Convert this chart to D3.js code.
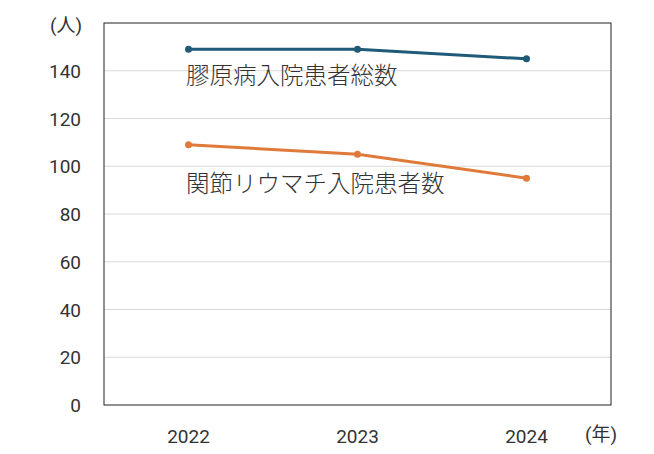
<!DOCTYPE html>
<meta charset="utf-8">
<html>
<head>
<script src="https://cdnjs.cloudflare.com/ajax/libs/d3/7.8.5/d3.min.js"></script>
<style>
body{margin:0;background:#fff;font-family:Roboto,"Noto Sans CJK JP",sans-serif;}
</style>
</head>
<body>
<svg id="chart" width="654" height="454"></svg>
<script>
var years = ["2022", "2023", "2024"];
var collagenTotal = [149, 149, 145];
var raTotal = [109, 105, 95];
var yTicks = [0, 20, 40, 60, 80, 100, 120, 140];

var svg = d3.select("#chart");
var m = {left: 104, right: 611, top: 23, bottom: 405};

var x = d3.scaleBand().domain(years).range([m.left, m.right]);
var y = d3.scaleLinear().domain([0, 160]).range([m.bottom, m.top]);

// gridlines
svg.selectAll(".grid").data(yTicks.slice(1)).enter().append("line")
	.attr("x1", m.left).attr("x2", m.right)
	.attr("y1", d => y(d)).attr("y2", d => y(d))
	.attr("stroke", "#d9d9d9").attr("stroke-width", 1);

// frame
svg.append("rect").attr("x", m.left).attr("y", m.top)
	.attr("width", m.right - m.left).attr("height", m.bottom - m.top)
	.attr("fill", "none").attr("stroke", "#222").attr("stroke-width", 1);

svg.selectAll(".yl").data(yTicks).enter().append("text")
	.attr("x", 81).attr("y", d => y(d) + 7)
	.attr("text-anchor", "end").attr("font-size", 19).attr("fill", "#333")
	.text(d => d);

svg.selectAll(".xl").data(years).enter().append("text")
	.attr("x", d => x(d) + x.bandwidth() / 2).attr("y", 443)
	.attr("text-anchor", "middle").attr("font-size", 19).attr("fill", "#333")
	.text(d => d);

svg.append("text").attr("x", 50).attr("y", 32).attr("font-size", 19).attr("fill", "#333").text("(人)");
svg.append("text").attr("x", 585).attr("y", 441).attr("font-size", 19).attr("fill", "#333").text("(年)");

var series = [
	{vals: collagenTotal, color: "#1f5a78", label: "膠原病入院患者総数", ly: 84},
	{vals: raTotal, color: "#e07a3a", label: "関節リウマチ入院患者数", ly: 192}
];

var line = d3.line().x((d, i) => x(years[i]) + x.bandwidth() / 2).y(d => y(d));

series.forEach(function(s) {
	svg.append("path").attr("d", line(s.vals))
		.attr("fill", "none").attr("stroke", s.color).attr("stroke-width", 3);
	svg.selectAll(null).data(s.vals).enter().append("circle")
		.attr("cx", (d, i) => x(years[i]) + x.bandwidth() / 2).attr("cy", d => y(d))
		.attr("r", 3.5).attr("fill", s.color);
	svg.append("text").attr("x", 186).attr("y", s.ly)
		.attr("font-family", "Noto Sans CJK JP").attr("font-weight", 300)
		.attr("font-size", 23.5).attr("fill", "#333").text(s.label);
});
</script>
</body>
</html>
